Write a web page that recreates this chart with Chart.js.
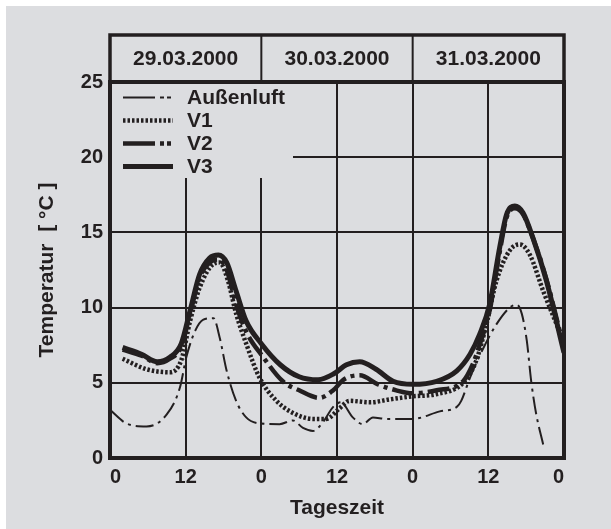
<!DOCTYPE html>
<html>
<head>
<meta charset="utf-8">
<script src="https://cdn.jsdelivr.net/npm/chart.js@4"></script>
<style>
  html, body { margin: 0; padding: 0; background: #fff; }
  canvas { display: block; }
</style>
</head>
<body>
<canvas id="tempChart" width="611" height="529"></canvas>
<script>
const dates = ['29.03.2000', '30.03.2000', '31.03.2000'];
const hourTickLabels = ['0', '12', '0', '12', '0', '12', '0'];
const seriesNames = ['Außenluft', 'V1', 'V2', 'V3'];

// hours since 29.03. 0:00, temperatures in °C
const hoursAussen = [0, 2.6, 5.8, 9, 11.1, 12.1, 13.5, 14.8, 16.4, 17.4, 18.5, 20, 21.6, 23.7, 26.9, 29, 30.6, 32.2, 33.8, 35.4, 36.6, 38.5, 40.1, 41.7, 43.8, 48, 52.3, 55, 55.7, 57.1, 59.2, 61.3, 63.4, 64.5, 65.3, 66.1, 66.8, 67.6, 68.7];
const tempAussen = [3.2, 2.3, 2.1, 2.9, 4.7, 6.7, 8.45, 9.2, 9.3, 8.0, 5.8, 3.8, 2.7, 2.3, 2.25, 2.5, 2.0, 1.8, 2.4, 3.4, 3.7, 2.7, 2.25, 2.7, 2.6, 2.6, 3.1, 3.4, 3.8, 5.35, 7.3, 8.9, 10.0, 10.2, 9.6, 7.8, 5.1, 2.9, 0.9];

const hoursV1 = [2, 5.8, 9.5, 11.3, 12.7, 14.2, 16.4, 17.4, 18.7, 20, 21.6, 23.7, 26.4, 29, 32.2, 34.3, 36.4, 38, 41.2, 44.4, 48, 51.8, 56, 58.1, 59.7, 61.3, 63.4, 65, 66.6, 68.7, 72];
const tempV1 = [6.6, 5.9, 5.7, 6.5, 9.1, 11.3, 12.9, 13.0, 11.8, 9.6, 7.6, 5.35, 3.8, 3.0, 2.6, 2.6, 3.3, 3.8, 3.7, 3.9, 4.1, 4.25, 5.0, 6.5, 8.9, 11.8, 13.8, 14.2, 13.5, 11.1, 7.7];

const hoursV2 = [2, 5, 7.5, 9.5, 11.3, 12.7, 14.2, 15.8, 17.2, 18.5, 20, 21.6, 24.3, 27.4, 30, 33.2, 35.4, 37, 39.6, 42.5, 45.4, 48, 51.8, 56, 57.5, 58.6, 60.2, 61.8, 62.9, 64.2, 65.5, 67.1, 69.2, 72];
const tempV2 = [7.2, 6.8, 6.3, 6.6, 7.4, 9.6, 12.0, 13.0, 13.2, 12.5, 10.2, 8.4, 6.7, 5.1, 4.5, 4.0, 4.5, 5.2, 5.5, 4.9, 4.5, 4.3, 4.5, 5.1, 6.2, 7.5, 9.8, 13.7, 16.0, 16.6, 16.2, 14.6, 11.9, 7.3];

const hoursV3 = [2, 5, 7.5, 9.5, 11.3, 12.7, 14.2, 15.8, 17.2, 18.5, 20, 21.6, 24, 27, 30, 33, 35.5, 37.5, 39.6, 42.2, 44.9, 48, 51.8, 55, 57.1, 58.6, 60.2, 61.8, 62.9, 64.2, 65.5, 67.1, 69.2, 72];
const tempV3 = [7.35, 6.9, 6.4, 6.7, 7.6, 9.8, 12.2, 13.3, 13.5, 13.0, 11.1, 9.1, 7.6, 6.2, 5.4, 5.2, 5.6, 6.2, 6.4, 5.9, 5.1, 4.9, 5.1, 5.8, 6.9, 8.2, 10.2, 14.0, 16.2, 16.75, 16.3, 14.6, 11.8, 7.0];

const ink = '#231f20';
const paper = '#dcdde0';
const fontFamily = '"Liberation Sans", Arial, sans-serif';

const toPoints = (hours, temps) => hours.map((h, i) => ({ x: h, y: temps[i] }));

const lineStyle = {
  'Außenluft': { borderWidth: 2, borderDash: [18, 5, 3, 5], legendDash: [32, 5, 4, 3, 4, 20] },
  'V1': { borderWidth: 4.5, borderDash: [2.5, 2], legendDash: [2.5, 2] },
  'V2': { borderWidth: 4.5, borderDash: [22, 5, 4, 5], legendDash: [32, 5, 4, 3, 4, 20] },
  'V3': { borderWidth: 5, borderDash: [], legendDash: [] }
};

const paperPlugin = {
  id: 'paper',
  beforeDraw(chart) {
    const ctx = chart.ctx;
    ctx.save();
    ctx.fillStyle = paper;
    ctx.fillRect(6, 6, chart.width - 6, chart.height - 6);
    ctx.restore();
  }
};

const legendPlugin = {
  id: 'innerLegend',
  beforeDatasetsDraw(chart) {
    const { ctx, chartArea } = chart;
    ctx.save();
    ctx.fillStyle = paper;
    ctx.fillRect(chartArea.left + 2, chartArea.top + 2, 181, 94);
    ctx.restore();
  },
  afterDatasetsDraw(chart) {
    const { ctx, chartArea } = chart;
    ctx.save();
    chart.data.datasets.forEach((ds, i) => {
      const y = chartArea.top + 15.5 + i * 23;
      const st = lineStyle[ds.label];
      ctx.strokeStyle = ink;
      ctx.lineWidth = st.borderWidth;
      ctx.setLineDash(st.legendDash);
      ctx.beginPath();
      ctx.moveTo(chartArea.left + 13, y);
      ctx.lineTo(chartArea.left + 63, y);
      ctx.stroke();
      ctx.setLineDash([]);
      ctx.fillStyle = ink;
      ctx.font = 'bold 21px ' + fontFamily;
      ctx.textBaseline = 'middle';
      ctx.textAlign = 'left';
      ctx.fillText(ds.label, chartArea.left + 77, y + 1);
    });

    // frame round the plot
    ctx.lineWidth = 4;
    ctx.strokeStyle = ink;
    ctx.strokeRect(chartArea.left, chartArea.top, chartArea.right - chartArea.left, chartArea.bottom - chartArea.top);

    // date header
    const x = chart.scales.x;
    const top = 35;
    ctx.lineWidth = 3.5;
    ctx.strokeRect(chartArea.left, top, chartArea.right - chartArea.left, chartArea.top - top);
    ctx.lineWidth = 2;
    [24, 48].forEach(h => {
      const px = x.getPixelForValue(h);
      ctx.beginPath();
      ctx.moveTo(px, top);
      ctx.lineTo(px, chartArea.top);
      ctx.stroke();
    });
    ctx.font = 'bold 21px ' + fontFamily;
    ctx.textAlign = 'center';
    ctx.textBaseline = 'middle';
    dates.forEach((d, i) => {
      const cx = (x.getPixelForValue(i * 24) + x.getPixelForValue(i * 24 + 24)) / 2;
      ctx.fillText(d, cx, (top + chartArea.top) / 2 + 1);
    });
    ctx.restore();
  }
};

const seriesHours = [hoursAussen, hoursV1, hoursV2, hoursV3];
const seriesTemps = [tempAussen, tempV1, tempV2, tempV3];

const chart = new Chart(document.getElementById('tempChart'), {
  type: 'line',
  data: {
    datasets: seriesNames.map((name, i) => ({
      label: name,
      data: toPoints(seriesHours[i], seriesTemps[i]),
      borderColor: ink,
      borderWidth: lineStyle[name].borderWidth,
      borderDash: lineStyle[name].borderDash,
      pointRadius: 0,
      fill: false,
      cubicInterpolationMode: 'monotone'
    }))
  },
  options: {
    responsive: false,
    animation: false,
    devicePixelRatio: 1,
    layout: { padding: { top: 82, right: 47, left: 0, bottom: 0 } },
    plugins: {
      legend: { display: false },
      tooltip: { enabled: false }
    },
    scales: {
      x: {
        type: 'linear',
        min: 0,
        max: 72,
        afterFit: s => { s.height = 71; },
        border: { display: false },
        grid: { color: ink, lineWidth: 2, drawTicks: false },
        ticks: {
          stepSize: 12,
          align: 'inner',
          padding: 7,
          color: ink,
          font: { family: fontFamily, size: 20, weight: 'bold' },
          callback: (v, i) => hourTickLabels[i]
        },
        title: {
          display: true,
          text: 'Tageszeit',
          color: ink,
          font: { family: fontFamily, size: 21, weight: 'bold' },
          padding: { bottom: 8 }
        }
      },
      y: {
        min: 0,
        max: 25,
        afterFit: s => { s.width = 110; },
        border: { display: false },
        grid: { color: ink, lineWidth: 2, drawTicks: false },
        ticks: {
          stepSize: 5,
          padding: 7,
          color: ink,
          font: { family: fontFamily, size: 20, weight: 'bold' }
        },
        title: {
          display: true,
          text: 'Temperatur  [ °C ]',
          color: ink,
          font: { family: fontFamily, size: 21, weight: 'bold' },
          padding: { top: 35 }
        }
      }
    }
  },
  plugins: [paperPlugin, legendPlugin]
});
</script>
</body>
</html>
